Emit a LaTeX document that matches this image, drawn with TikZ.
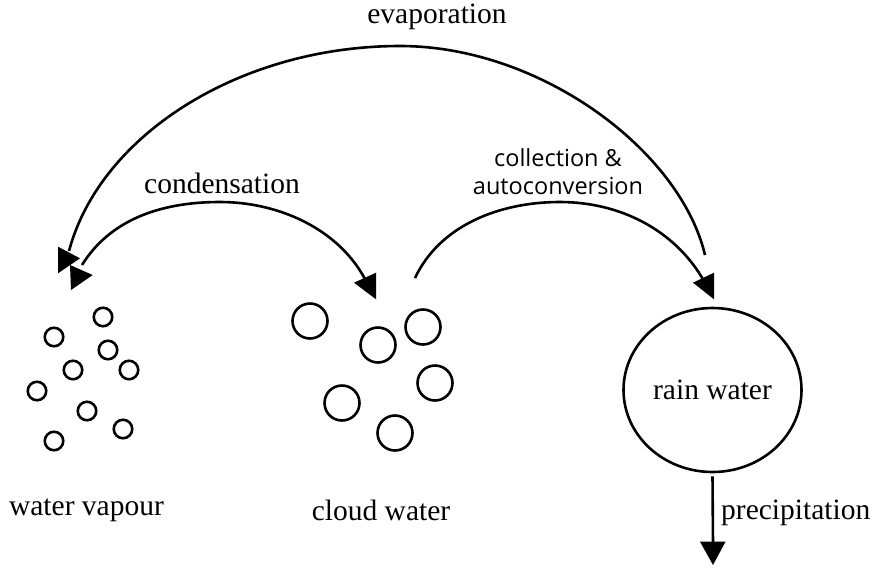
\documentclass[tikz,border=0pt]{standalone}
\usepackage{fontspec}
\setmainfont{Liberation Serif}
\newfontfamily\labsans{Open Sans}
\usetikzlibrary{shapes.geometric}
\begin{document}
\begin{tikzpicture}[x=1pt,y=-1pt,
  lw/.style={line width=2.6pt},
  vap/.style={circle,draw,lw,minimum size=18.5pt,inner sep=0pt},
  cld/.style={circle,draw,lw,minimum size=35pt,inner sep=0pt},
  lbl/.style={inner sep=0pt,font=\fontsize{29.5}{32}\selectfont},
  slbl/.style={inner sep=0pt,align=center,font=\labsans\fontsize{23.5}{28}\selectfont},
  conn/.style={lw,line cap=butt},
  head/.style={fill=black}]
\useasboundingbox (0,0) rectangle (874,568);
% water vapour droplets
\node[vap] (v1) at (103,317) {};
\node[vap] (v2) at (54,337) {};
\node[vap] (v3) at (108,350) {};
\node[vap] (v4) at (73,370) {};
\node[vap] (v5) at (129,370) {};
\node[vap] (v6) at (37,391) {};
\node[vap] (v7) at (87,411) {};
\node[vap] (v8) at (123,429) {};
\node[vap] (v9) at (54,441) {};
% cloud water droplets
\node[cld] (c1) at (310,321) {};
\node[cld] (c2) at (378,345) {};
\node[cld] (c3) at (423,327) {};
\node[cld] (c4) at (435,383) {};
\node[cld] (c5) at (342,403) {};
\node[cld] (c6) at (395,433) {};
% rain water
\node[ellipse,draw,lw,minimum width=178pt,minimum height=164pt,inner sep=0pt,lbl] (rain) at (712.5,390) {rain water};
% labels
\node[lbl] (tvap) at (86.5,510) {water vapour};
\node[lbl] (tcld) at (381,510) {cloud water};
\node[lbl] (tevap) at (437,17) {evaporation};
\node[lbl] (tcond) at (222,183) {condensation};
\node[lbl,anchor=west] (tprec) at (721,513) {precipitation};
\node[slbl] (tcoll) at (558,172) {collection \&\\autoconversion};
% connector end points
\coordinate (evS) at (705,255);
\coordinate (evT) at (400,46);
\coordinate (evE) at (69,251);
\coordinate (coS) at (82,265);
\coordinate (coT) at (220,202);
\coordinate (coE) at (366,281);
\coordinate (clS) at (415,278);
\coordinate (clT) at (560,202);
\coordinate (clE) at (704,281);
\coordinate (prE) at (713,545);
% evaporation
\draw[conn] (evS) .. controls (680,150) and (540,46) .. (evT)
  .. controls (240,46) and (100,135) .. (evE);
\fill[head] (58,246.7) -- (58,273.3) -- (80,258.3) -- cycle;
% condensation
\draw[conn] (coS) .. controls (110,220) and (160,202) .. (coT)
  .. controls (280,202) and (340,230) .. (coE);
\fill[head] (70,265) -- (71,290) -- (92.7,275) -- cycle;
\fill[head] (354,282.7) -- (376,272.7) -- (376,299.3) -- cycle;
% collection & autoconversion
\draw[conn] (clS) .. controls (440,225) and (500,202) .. (clT)
  .. controls (620,202) and (675,230) .. (clE);
\fill[head] (693,282.7) -- (714,272.7) -- (714,299.3) -- cycle;
% precipitation
\draw[conn] (rain.south) ++(0,3) -- (prE);
\fill[head] (700,541.7) -- (725.5,541.7) -- (713,565) -- cycle;
\end{tikzpicture}
\end{document}
